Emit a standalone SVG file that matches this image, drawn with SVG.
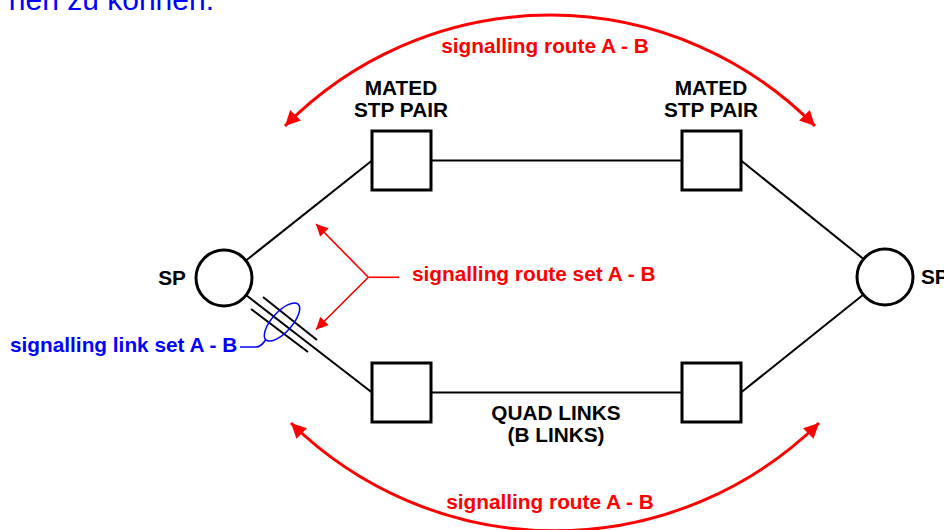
<svg xmlns="http://www.w3.org/2000/svg" width="944" height="530" viewBox="0 0 944 530">
  <style>
    .lbl { font-family: "Liberation Sans", Arial, sans-serif; font-weight: bold; font-size: 20.8px; }
    .blk { fill: #000; }
    .red { fill: #ff0000; }
    .blue { fill: #0000ff; }
    .node { fill: #fff; stroke: #000; stroke-width: 3; }
    .link { stroke: #000; stroke-width: 2; fill: none; }
    .route { stroke: #ff0000; stroke-width: 3; fill: none; }
    .pointer { stroke: #ff0000; stroke-width: 1.6; fill: none; }
  </style>
  <defs>
    <marker id="bigHead" viewBox="0 0 10 10" refX="10" refY="5" markerUnits="userSpaceOnUse" markerWidth="19" markerHeight="15" orient="auto-start-reverse">
      <path d="M0,0 L10,5 L0,10 z" fill="#ff0000"/>
    </marker>
    <marker id="smallHead" viewBox="0 0 10 10" refX="10" refY="5" markerUnits="userSpaceOnUse" markerWidth="16" markerHeight="12" orient="auto">
      <path d="M0,0 L10,5 L0,10 z" fill="#ff0000"/>
    </marker>
  </defs>

  <rect width="944" height="530" fill="#fff"/>

  <!-- heading text running off the top edge -->
  <text x="214" y="10" text-anchor="end" font-family="Liberation Sans, Arial, sans-serif" font-size="30" fill="#0000ff">hen zu können.</text>

  <!-- links between nodes -->
  <g id="connectors">
    <line class="link" x1="246" y1="260.5" x2="372" y2="160.5"/>
    <line class="link" x1="246" y1="295" x2="372" y2="392.5"/>
    <line class="link" x1="431" y1="160.5" x2="682" y2="160.5"/>
    <line class="link" x1="431" y1="392.5" x2="682" y2="392.5"/>
    <line class="link" x1="741" y1="160.5" x2="863.5" y2="259"/>
    <line class="link" x1="741" y1="392.5" x2="863.5" y2="294.5"/>
    <!-- parallel strokes marking the link set -->
    <line class="link" x1="251" y1="309" x2="308" y2="352"/>
    <line class="link" x1="263" y1="297" x2="317" y2="340"/>
  </g>

  <!-- signalling routes -->
  <g id="routes">
    <path class="route" d="M285,126 A372,372 0 0 1 815,126" marker-start="url(#bigHead)" marker-end="url(#bigHead)"/>
    <path class="route" d="M291,423 A377,377 0 0 0 819,423" marker-start="url(#bigHead)" marker-end="url(#bigHead)"/>
    <text class="lbl red" x="545" y="53" text-anchor="middle">signalling route A - B</text>
    <text class="lbl red" x="550" y="509" text-anchor="middle">signalling route A - B</text>
  </g>

  <!-- route set pointer -->
  <g id="route-set">
    <line class="pointer" x1="399" y1="277.3" x2="368.3" y2="277.3"/>
    <path class="pointer" d="M368.3,277.3 L316,224" marker-end="url(#smallHead)"/>
    <path class="pointer" d="M368.3,277.3 L316,329.5" marker-end="url(#smallHead)"/>
    <text class="lbl red" x="412" y="281">signalling route set A - B</text>
  </g>

  <!-- link set annotation -->
  <g id="link-set">
    <ellipse cx="282" cy="322" rx="24" ry="10" transform="rotate(-48 282 322)" fill="none" stroke="#0000ff" stroke-width="1.5"/>
    <path d="M240,347 L256,347 Q261,347 265.5,340" fill="none" stroke="#0000ff" stroke-width="1.5"/>
    <text class="lbl blue" x="10" y="352">signalling link set A - B</text>
  </g>

  <g id="sp-a">
    <circle class="node" cx="224" cy="278" r="28"/>
    <text class="lbl blk" x="186" y="285" text-anchor="end">SP</text>
  </g>
  <g id="sp-b">
    <circle class="node" cx="885" cy="277" r="28"/>
    <text class="lbl blk" x="921" y="284">SP</text>
  </g>

  <g id="stp-a1">
    <rect class="node" x="372" y="131" width="59" height="59"/>
    <text class="lbl blk" x="401" y="95" text-anchor="middle">MATED</text>
    <text class="lbl blk" x="401" y="117" text-anchor="middle">STP PAIR</text>
  </g>
  <g id="stp-b1">
    <rect class="node" x="682" y="131" width="59" height="59"/>
    <text class="lbl blk" x="711" y="95" text-anchor="middle">MATED</text>
    <text class="lbl blk" x="711" y="117" text-anchor="middle">STP PAIR</text>
  </g>
  <g id="stp-a2">
    <rect class="node" x="372" y="363" width="59" height="59"/>
  </g>
  <g id="stp-b2">
    <rect class="node" x="682" y="363" width="59" height="59"/>
  </g>

  <g id="quad-links-label">
    <text class="lbl blk" x="556" y="420" text-anchor="middle">QUAD LINKS</text>
    <text class="lbl blk" x="556" y="442" text-anchor="middle">(B LINKS)</text>
  </g>
</svg>
